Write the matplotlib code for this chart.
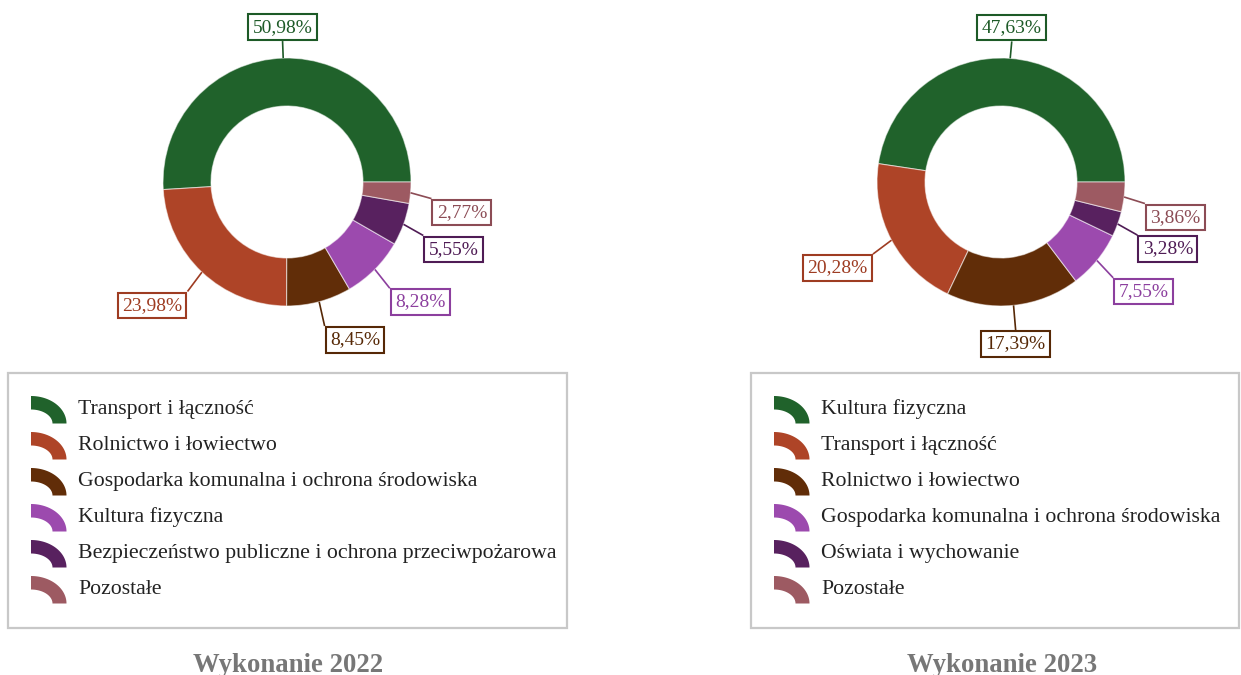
import numpy as np
import matplotlib
matplotlib.use("Agg")
import matplotlib.pyplot as plt
from matplotlib.patches import Rectangle, Polygon

# ---- data ----
labels_2022 = [
    "Transport i łączność",
    "Rolnictwo i łowiectwo",
    "Gospodarka komunalna i ochrona środowiska",
    "Kultura fizyczna",
    "Bezpieczeństwo publiczne i ochrona przeciwpożarowa",
    "Pozostałe",
]
values_2022 = [50.98, 23.98, 8.45, 8.28, 5.55, 2.77]

labels_2023 = [
    "Kultura fizyczna",
    "Transport i łączność",
    "Rolnictwo i łowiectwo",
    "Gospodarka komunalna i ochrona środowiska",
    "Oświata i wychowanie",
    "Pozostałe",
]
values_2023 = [47.63, 20.28, 17.39, 7.55, 3.28, 3.86]

titles = ["Wykonanie 2022", "Wykonanie 2023"]

slice_colors = ["#20622b", "#ae4427", "#612d08", "#9c4aae", "#58215f", "#9d5a62"]
label_colors = ["#1d5a27", "#9e3c22", "#562806", "#8c3f9e", "#4f1c55", "#8c4c55"]

W, H = 1241, 675
DPI = 100
FONT = "Liberation Serif"

fig = plt.figure(figsize=(W / DPI, H / DPI), dpi=DPI)
fig.patch.set_facecolor("white")

# overlay axes in pixel coordinates for legends and titles
ov = fig.add_axes([0, 0, 1, 1])
ov.set_xlim(0, W)
ov.set_ylim(H, 0)
ov.axis("off")

R_OUT = 124.0       # outer radius in px
R_IN = 76.0         # inner radius in px
LIM = 2.0           # data half-extent of pie axes
SIZE = 2 * LIM * R_OUT
LINE_PX = 21.0
DROP_PX = 4.0       # label boxes sit slightly lower than the radial end point


def draw_donut(cx, cy, values):
    ax = fig.add_axes([(cx - SIZE / 2) / W, (H - cy - SIZE / 2) / H, SIZE / W, SIZE / H])
    ax.patch.set_alpha(0)
    wedges, _ = ax.pie(
        values, colors=slice_colors, startangle=0, counterclock=True, radius=1.0,
        wedgeprops=dict(width=1 - R_IN / R_OUT, edgecolor=(1, 1, 1, 0.55), linewidth=0.8),
    )
    ax.set_xlim(-LIM, LIM)
    ax.set_ylim(-LIM, LIM)
    ax.set_aspect("equal")
    ax.axis("off")

    fs = 14
    pad = 0.22
    box_lw = 1.5
    for w, v, lc in zip(wedges, values, label_colors):
        mid = np.deg2rad((w.theta1 + w.theta2) / 2)
        c, s = np.cos(mid), np.sin(mid)
        r1 = 1 + LINE_PX / R_OUT
        x0, y0 = c, s
        x1, y1 = c * r1, s * r1 - DROP_PX / R_OUT
        ax.plot([x0, x1], [y0, y1], color=lc, lw=1.2, solid_capstyle="butt", clip_on=False)
        if abs(c) < 0.2:
            ha, sx = "center", 0
        elif c > 0:
            ha, sx = "left", 1
        else:
            ha, sx = "right", -1
        if s > 0:
            va, sy = "bottom", 1
        else:
            va, sy = "top", -1
        off = pad * fs + box_lw / 2
        txt = f"{v:.2f}%".replace(".", ",")
        ax.annotate(
            txt, xy=(x1, y1), xytext=(sx * off, sy * off), textcoords="offset points",
            ha=ha, va=va, fontsize=fs, family=FONT, color=lc, annotation_clip=False,
            bbox=dict(boxstyle=f"square,pad={pad}", facecolor="white", edgecolor=lc, linewidth=box_lw),
        )
    return ax


def arc_icon(x, y):
    # quarter-ring glyph with its upper-left tip at (x, y)
    a_o, b_o = 35.5, 27.5
    a_i, b_i = 21.5, 14.0
    cx, cy = x, y + b_o
    t = np.linspace(np.pi / 2, 0, 30)
    outer = np.column_stack([cx + a_o * np.cos(t), cy - b_o * np.sin(t)])
    inner = np.column_stack([cx + a_i * np.cos(t[::-1]), cy - b_i * np.sin(t[::-1])])
    return np.vstack([outer, inner])


def draw_legend(x0, x1, labels):
    ov.add_patch(Rectangle((x0, 373), x1 - x0, 255, facecolor="white",
                           edgecolor="#c8c8c8", linewidth=1.6))
    for i, (lab, col) in enumerate(zip(labels, slice_colors)):
        yb = 414 + 36 * i
        ov.add_patch(Polygon(arc_icon(x0 + 23, yb - 18), closed=True,
                             facecolor=col, edgecolor="none"))
        ov.text(x0 + 70, yb, lab, family=FONT, fontsize=15.7, color="#222222",
                ha="left", va="baseline")


centers = [(287, 182), (1001, 182)]
draw_donut(*centers[0], values_2022)
draw_donut(*centers[1], values_2023)

draw_legend(8, 567, labels_2022)
draw_legend(751, 1239, labels_2023)

for (cx, _), title in zip(centers, titles):
    ov.text(cx + 1, 672, title, family=FONT, fontsize=19.3, fontweight="bold",
            color="#777777", ha="center", va="baseline")

fig.savefig("out.png", dpi=DPI, facecolor="white")
